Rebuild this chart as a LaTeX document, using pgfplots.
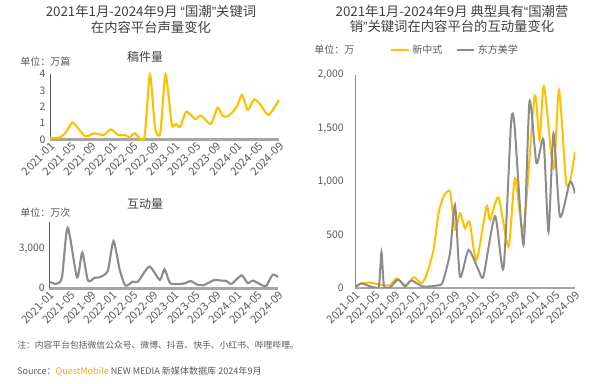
\documentclass[border=0pt]{standalone}
\usepackage{pgfplots}
\pgfplotsset{compat=1.18}
\usepackage{fontspec}
\setmainfont{Noto Sans CJK SC}
\newfontfamily\qfont{Liberation Sans}
\definecolor{qyellow}{HTML}{FFC000}
\definecolor{qgray}{HTML}{8C8C8C}
\definecolor{ttl}{HTML}{404040}
\definecolor{lbl}{HTML}{595959}
\definecolor{qorange}{HTML}{F5A623}
\definecolor{axgray}{HTML}{A6A6A6}

\pgfplotsset{
  base/.style={
    scale only axis, xmin=0, xmax=44, ymin=0,
    axis x line*=bottom, axis y line*=left,
    xtick={0,4,...,44},
    xticklabels={2021-01,2021-05,2021-09,2022-01,2022-05,2022-09,2023-01,2023-05,2023-09,2024-01,2024-05,2024-09},
    x tick label style={rotate=45, anchor=north east, font=\fontsize{8.3}{9}\selectfont, text=lbl, inner sep=1pt},
    y tick label style={font=\fontsize{7.8}{9}\selectfont, text=lbl},
    major tick length=0pt,
    tick style={draw=none},
    /pgf/number format/assume math mode=true,
    /pgf/number format/1000 sep={,},
  }
}

\begin{document}
\begin{tikzpicture}
\useasboundingbox (0,0) rectangle (450pt,-288pt);

% top-left: 稿件量
\begin{axis}[base,
  at={(37.5pt,-104.5pt)}, anchor=south west,
  width=171.75pt, height=49pt,
  ymax=4, ytick={0,1,2,3,4},
  clip=false,
  x axis line style={-, draw=axgray, line width=2pt},
  y axis line style={-, draw=lbl, line width=0.6pt},
]
\addplot[qyellow, line width=1.6pt, smooth, tension=0.4] coordinates {
(0,0.06)(1.9,0.12)(3,0.4)(4.4,1.02)(6.7,0.2)(8.6,0.37)(10.3,0.26)(11.7,0.61)(13.1,0.26)(14.4,0.26)(15.3,0.12)(16.3,0.37)(18.1,0.06)(19.2,3.97)(20.2,0.67)(21.2,0.4)(22.2,3.97)(23.4,0.92)(24.2,0.94)(25.0,0.77)(26.2,1.7)(27.9,1.23)(29.0,1.45)(30.9,0.94)(32.2,1.94)(33.2,1.43)(34.3,1.43)(35.9,2.0)(36.9,2.72)(38.0,1.8)(39.2,2.45)(40.5,2.1)(42.0,1.49)(44,2.41)
};
\end{axis}

% bottom-left: 互动量
\begin{axis}[base,
  at={(37.1pt,-216.2pt)}, anchor=south west,
  width=171.75pt, height=49.5pt,
  ymax=5000, ytick={0,3000},
  x axis line style={-, draw=axgray, line width=2pt},
  y axis line style={-, draw=lbl, line width=0.6pt},
]
\addplot[qgray, line width=1.6pt, smooth, tension=0.4] coordinates {
(0,500)(1.3,330)(2.4,830)(3.5,4590)(5.3,830)(6.3,2700)(7.4,580)(8.7,800)(9.6,830)(11.2,1310)(12.3,3580)(13.5,1390)(14.6,200)(16,500)(17,500)(19.2,1640)(21.2,630)(22.1,1440)(23.2,380)(25,330)(26,380)(27.2,550)(28.2,300)(29.6,230)(31.7,630)(33,580)(34,550)(35,330)(36.9,980)(38.1,380)(39.1,580)(41,200)(41.7,200)(42.9,1030)(44,830)
};
\end{axis}

% right
\begin{axis}[base,
  at={(266.25pt,-216pt)}, anchor=south west,
  width=165pt, height=159.75pt,
  ymax=2000, ytick={0,500,1000,1500,2000},
  y tick label style={xshift=-5pt},
  x axis line style={-, draw=axgray, line width=1.2pt},
  y axis line style={-, draw=qgray, line width=0.6pt},
  legend style={at={(0.16,1.117)}, anchor=west, draw=none, fill=none,
    font=\fontsize{7.5}{9}\selectfont, text=lbl, legend columns=2,
    /tikz/every even column/.append style={column sep=8pt}, inner sep=0pt},
  legend image code/.code={\draw[#1, line width=1.5pt] (0pt,0pt) -- (13pt,0pt);},
]
\addplot[qyellow, line width=1.5pt, smooth, tension=0.4] coordinates {
(0,10)(1.3,40)(3,50)(5.7,25)(7,25)(8.3,90)(9.5,45)(10.3,30)(11.8,100)(13.3,45)(14.3,122)(15.7,357)(16.7,700)(17.7,857)(19,904)(20,545)(21,701)(22,560)(22.9,623)(24.3,263)(26.3,764)(27,639)(28.7,850)(30.7,388)(32,1030)(33.7,545)(35.9,1797)(36.9,1390)(37.8,1897)(39.7,1120)(40.8,1860)(42.2,1000)(43,1000)(44,1280)
};
\addlegendentry{新中式}
\addplot[qgray, line width=1.5pt, smooth, tension=0.4] coordinates {
(0,10)(1.3,44)(2.7,20)(4,5)(4.8,20)(5.3,335)(5.8,20)(7,5)(8.6,80)(10,15)(11.2,70)(12.5,40)(13.5,15)(15,15)(16.5,25)(17.5,50)(19,328)(20,780)(21,106)(22.7,357)(24.7,169)(25.7,113)(28,675)(29.7,185)(31.2,1540)(31.9,1530)(33.7,404)(34.9,1750)(36.3,1171)(37.7,1390)(38.7,529)(39.7,1452)(41,670)(43,998)(44,889)
};
\addlegendentry{东方美学}
\end{axis}

\begin{scope}[x=0.75pt,y=-0.75pt]
\node[text=ttl, font=\fontsize{10}{11.5}\selectfont, align=center] at (151,19.5) {2021年1月-2024年9月 {\qfont“}国潮{\qfont”}关键词\\在内容平台声量变化};
\node[text=ttl, font=\fontsize{10}{11.5}\selectfont, align=center] at (452,19) {2021年1月-2024年9月 典型具有{\qfont“}国潮营\\销{\qfont”}关键词在内容平台的互动量变化};
\node[text=ttl, font=\fontsize{9}{10}\selectfont] at (145,57) {稿件量};
\node[text=lbl, font=\fontsize{7.5}{9}\selectfont, anchor=west, inner sep=0] at (20,62) {单位：万篇};
\node[text=ttl, font=\fontsize{9}{10}\selectfont] at (145,204) {互动量};
\node[text=lbl, font=\fontsize{7.5}{9}\selectfont, anchor=west, inner sep=0] at (20,213) {单位：万次};
\node[text=lbl, font=\fontsize{7.5}{9}\selectfont, anchor=west, inner sep=0] at (314,50) {单位：万};
\node[text=lbl, font=\fontsize{6.6}{8}\selectfont, anchor=west, inner sep=0] at (17,345) {注：内容平台包括微信公众号、微博、抖音、快手、小红书、哔哩哔哩。};
\node[text=lbl, font=\fontsize{6.8}{8}\selectfont, anchor=west, inner sep=0] at (17,372) {Source：\textcolor{qorange}{QuestMobile} NEW MEDIA 新媒体数据库 2024年9月};
\end{scope}
\end{tikzpicture}
\end{document}
